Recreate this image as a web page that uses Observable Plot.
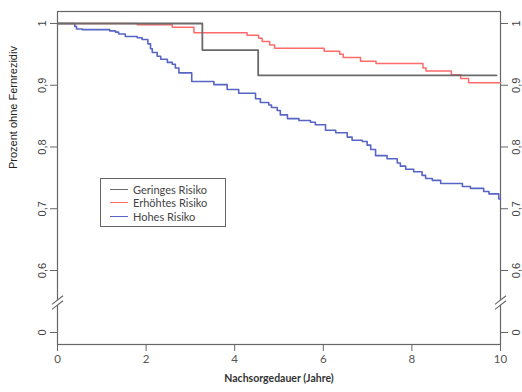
<!DOCTYPE html>
<html>
<head>
<meta charset="utf-8">
<script src="https://cdn.jsdelivr.net/npm/d3@7"></script>
<script src="https://cdn.jsdelivr.net/npm/@observablehq/plot@0.6"></script>
<style>
  body { margin: 0; background: #fff; }
  #wrap { position: relative; width: 522px; height: 392px; }
  #legend { position: absolute; left: 100px; top: 178px; width: 126px; height: 49px; box-sizing: border-box;
            border: 1px solid #666; background: #fff; font-family: Lato, sans-serif; font-size: 11px; color: #444; }
  #legend .row { position: absolute; left: 9px; height: 12px; display: flex; align-items: center; white-space: nowrap; }
  #legend .sw { width: 18px; height: 0; border-top: 1.3px solid; margin-right: 5px; }
</style>
</head>
<body>
<div id="wrap"></div>
<script>
// ---- data ----
const xTicks = [0, 2, 4, 6, 8, 10];
const yTicks = [0, 0.6, 0.7, 0.8, 0.9, 1];
const yTickLabels = ["0", "0,6", "0,7", "0,8", "0,9", "1"];
const xTitle = "Nachsorgedauer (Jahre)";
const yTitle = "Prozent ohne Fernrezidiv";

const seriesNames = ["Geringes Risiko", "Erhöhtes Risiko", "Hohes Risiko"];
const seriesColors = ["#6a6a6a", "#ff6b6b", "#5765c6"];

const geringesJahre = [0, 3.27, 4.53, 9.91];
const geringesAnteil = [1, 0.957, 0.916, 0.916];

const erhoehtJahre = [0, 1.80, 2.59, 3.08, 4.28, 4.54, 4.62, 4.79, 4.90, 6.02, 6.37, 6.45, 6.84, 7.19, 8.25, 8.32, 8.89, 9.10, 9.28, 10];
const erhoehtAnteil = [1, 0.998, 0.994, 0.985, 0.981, 0.976, 0.971, 0.965, 0.960, 0.955, 0.950, 0.945, 0.939, 0.935, 0.928, 0.923, 0.917, 0.911, 0.904, 0.904];

const hohesJahre = [0, 0.39, 0.43, 0.56, 1.18, 1.31, 1.38, 1.53, 1.80, 1.91, 2.04, 2.10, 2.14, 2.25, 2.33, 2.48, 2.59, 2.66, 2.74, 3.03,
  3.53, 3.83, 4.09, 4.47, 4.58, 4.77, 4.83, 4.96, 5.03, 5.19, 5.45, 5.71, 5.82, 6.05, 6.28, 6.54, 6.65, 6.88, 6.99, 7.07,
  7.18, 7.44, 7.67, 7.74, 7.86, 8.04, 8.23, 8.31, 8.46, 8.65, 9.14, 9.32, 9.62, 9.74, 9.96, 10];
const hohesAnteil = [1, 0.995, 0.991, 0.990, 0.988, 0.986, 0.983, 0.979, 0.977, 0.974, 0.967, 0.959, 0.953, 0.947, 0.942, 0.937, 0.934, 0.928, 0.920, 0.906,
  0.901, 0.893, 0.887, 0.878, 0.872, 0.868, 0.864, 0.859, 0.852, 0.846, 0.843, 0.840, 0.836, 0.827, 0.823, 0.816, 0.811, 0.809, 0.803, 0.796,
  0.786, 0.781, 0.774, 0.769, 0.764, 0.760, 0.754, 0.749, 0.746, 0.741, 0.736, 0.733, 0.728, 0.724, 0.716, 0.716];

// axis break (value between 0 and 0.6 on the broken axis) at both side axes
const axisBreakX = [0, 10];
const axisBreakY = 0.29;

// ---- build table ----
const toRows = (name, t, v) => t.map((d, i) => ({serie: name, jahr: d, anteil: v[i]}));
const rowsRed = toRows(seriesNames[1], erhoehtJahre, erhoehtAnteil);
const rowsBlue = toRows(seriesNames[2], hohesJahre, hohesAnteil);
const rowsGray = toRows(seriesNames[0], geringesJahre, geringesAnteil);

const fmt = d => yTickLabels[yTicks.indexOf(d)];

const breakGap = { draw(ctx) { ctx.moveTo(-5.5, 6.8); ctx.lineTo(5.5, -1.8); ctx.lineTo(5.5, -6.8); ctx.lineTo(-5.5, 1.8); ctx.closePath(); } };
const breakLines = { draw(ctx) { ctx.moveTo(-5.5, 6.8); ctx.lineTo(5.5, -1.8); ctx.moveTo(-5.5, 1.8); ctx.lineTo(5.5, -6.8); } };

const chart = Plot.plot({
  width: 522,
  height: 392,
  marginLeft: 57,
  marginRight: 22,
  marginTop: 11,
  marginBottom: 48,
  style: { background: "white", fontFamily: "'Liberation Sans', Arial, sans-serif", color: "#333" },
  x: { domain: [0, 10] },
  y: { type: "linear", domain: [-0.0194, 0, 0.6, 1.0194], range: [344, 332, 270, 11] },
  color: { domain: seriesNames, range: seriesColors },
  marks: [
    Plot.frame({ stroke: "#666", strokeWidth: 1.2 }),
    Plot.dot(axisBreakX, { x: d => d, y: () => axisBreakY, symbol: breakGap, fill: "white", stroke: "none", r: 3 }),
    Plot.dot(axisBreakX, { x: d => d, y: () => axisBreakY, symbol: breakLines, fill: "none", stroke: "#666", strokeWidth: 1.1, r: 3 }),
    Plot.line(rowsRed, { x: "jahr", y: "anteil", stroke: "serie", curve: "step-after", strokeWidth: 1.5 }),
    Plot.line(rowsBlue, { x: "jahr", y: "anteil", stroke: "serie", curve: "step-after", strokeWidth: 1.6 }),
    Plot.line(rowsGray, { x: "jahr", y: "anteil", stroke: "serie", curve: "step-after", strokeWidth: 1.8 }),
    Plot.axisX(xTicks, { anchor: "bottom", tickSize: 7, tickPadding: 3, label: null, fontSize: 11.5, fontFamily: "Lato, sans-serif", stroke: "#666", color: "#555" }),
    Plot.axisY(yTicks, { anchor: "left", tickSize: 7, tickPadding: 5, tickRotate: -90, tickFormat: fmt, label: null, fontSize: 11, stroke: "#666", color: "#444" }),
    Plot.axisY(yTicks, { anchor: "right", tickSize: 7, tickPadding: 5, tickRotate: -90, lineAnchor: "top", tickFormat: fmt, label: null, fontSize: 11, stroke: "#666", color: "#444" }),
    Plot.text([yTitle], { frameAnchor: "left", dx: -44, dy: -9, rotate: -90, fontSize: 11, fill: "#222" }),
    Plot.text([xTitle], { frameAnchor: "bottom", dy: 37, fontSize: 10.5, fontWeight: "bold", fontFamily: "Lato, sans-serif", fill: "#333" })
  ]
});

const wrap = document.getElementById("wrap");
wrap.appendChild(chart);

// legend
const legend = document.createElement("div");
legend.id = "legend";
const rowTops = [4, 17, 31];
seriesNames.forEach((name, i) => {
  const row = document.createElement("div");
  row.className = "row";
  row.style.top = rowTops[i] + "px";
  const sw = document.createElement("span");
  sw.className = "sw";
  sw.style.borderTopColor = seriesColors[i];
  const tx = document.createElement("span");
  tx.textContent = name;
  row.appendChild(sw);
  row.appendChild(tx);
  legend.appendChild(row);
});
wrap.appendChild(legend);
</script>
</body>
</html>
